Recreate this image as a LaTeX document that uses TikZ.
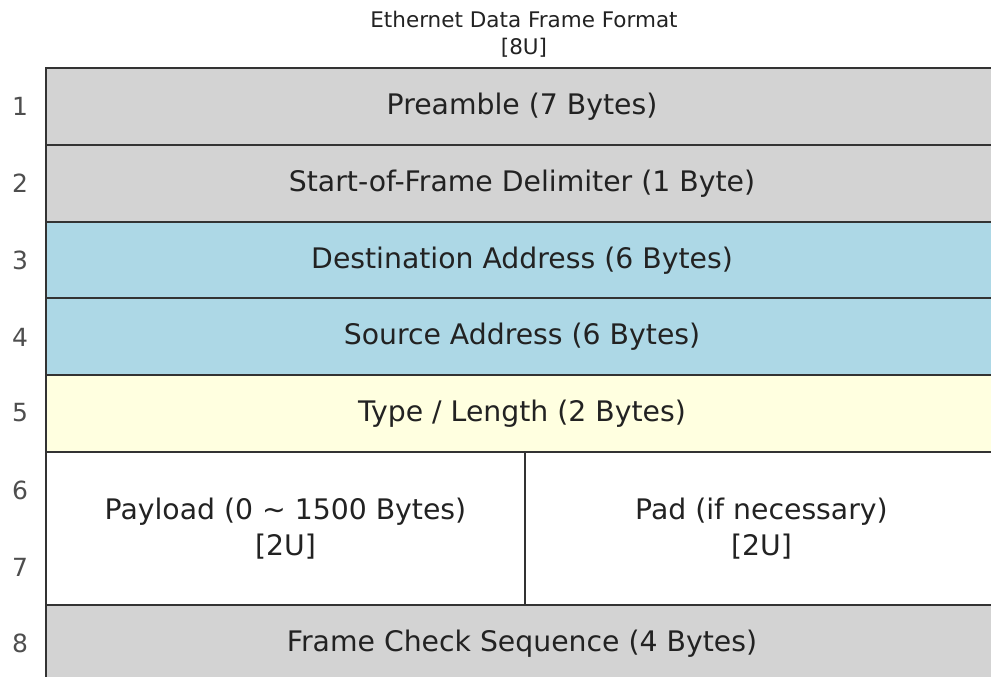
\documentclass[tikz,border=0pt]{standalone}
\usepackage{fontspec}
\setmainfont{DejaVu Sans}
\definecolor{rowgray}{HTML}{D3D3D3}
\definecolor{rowblue}{HTML}{ADD8E6}
\definecolor{rowyellow}{HTML}{FFFFE0}
\definecolor{edge}{HTML}{333333}
\definecolor{txt}{HTML}{222222}
\tikzset{
  rowbox/.style={draw=edge, line width=2pt, anchor=north west, minimum width=952pt, minimum height=77pt, inner sep=0pt, text=txt, font=\fontsize{28.3}{32}\selectfont},
  cellbox/.style={draw=edge, line width=2pt, anchor=north west, minimum height=153pt, inner sep=0pt, text=txt, align=center, font=\fontsize{28.3}{36}\selectfont},
  numlabel/.style={text=txt!80, font=\fontsize{25}{30}\selectfont},
  titlelabel/.style={text=txt, align=center, font=\fontsize{21.5}{27}\selectfont}
}
\begin{document}
\begin{tikzpicture}[x=1pt,y=-1pt]
\useasboundingbox[fill=white] (0,0) rectangle (991,677);
\node[titlelabel] (title) at (524,34) {Ethernet Data Frame Format\\{}[8U]};
\node[rowbox, fill=rowgray] (r1) at (45,67) {Preamble (7 Bytes)};
\node[rowbox, fill=rowgray] (r2) at (45,144) {Start-of-Frame Delimiter (1 Byte)};
\node[rowbox, fill=rowblue] (r3) at (45,221) {Destination Address (6 Bytes)};
\node[rowbox, fill=rowblue] (r4) at (45,297) {Source Address (6 Bytes)};
\node[rowbox, fill=rowyellow] (r5) at (45,374) {Type / Length (2 Bytes)};
\node[cellbox, fill=white, minimum width=479pt] (payload) at (45,451) {Payload (0 \textasciitilde{} 1500 Bytes)\\{}[2U]};
\node[cellbox, fill=white, minimum width=473pt] (pad) at (524,451) {Pad (if necessary)\\{}[2U]};
\node[rowbox, fill=rowgray] (r8) at (45,604) {Frame Check Sequence (4 Bytes)};
\node[numlabel] (n1) at (20,106) {1};
\node[numlabel] (n2) at (20,183) {2};
\node[numlabel] (n3) at (20,260) {3};
\node[numlabel] (n4) at (20,337) {4};
\node[numlabel] (n5) at (20,413) {5};
\node[numlabel] (n6) at (20,490) {6};
\node[numlabel] (n7) at (20,567) {7};
\node[numlabel] (n8) at (20,643) {8};
\end{tikzpicture}
\end{document}
